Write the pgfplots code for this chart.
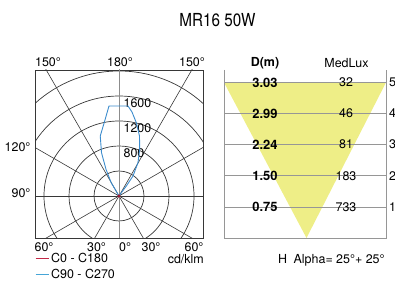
\documentclass[border=0pt]{standalone}
\usepackage{pgfplots}
\pgfplotsset{compat=1.18}
\usepackage{fontspec}
\setmainfont{TeX Gyre Heros}
\definecolor{gridc}{RGB}{55,55,55}
\definecolor{vline}{RGB}{140,140,140}
\definecolor{cblue}{RGB}{60,140,205}
\definecolor{cred}{RGB}{160,20,50}
\definecolor{lblue}{RGB}{70,165,215}
\definecolor{lred}{RGB}{195,40,70}
\definecolor{cyel}{RGB}{238,238,135}
\definecolor{pgray}{RGB}{150,150,150}
\begin{document}
\begin{tikzpicture}[x=1bp,y=1bp,font=\fontsize{12.5}{14}\selectfont]
\useasboundingbox (0,0) rectangle (395,282);
\node at (217.5,262) {\scalebox{0.85}[1]{\fontsize{18}{20}\selectfont MR16 50W}};

\begin{axis}[at={(35bp,44bp)},anchor=south west, scale only axis,
  width=168bp, height=168bp,
  xmin=-1344,xmax=1344,ymin=-672,ymax=2016,
  xtick=\empty, ytick=\empty,
  axis line style={gridc, line width=0.8pt},
  legend cell align=left,
  legend image code/.code={\draw[#1] (0bp,0bp) -- (13bp,0bp);},
  legend style={at={(rel axis cs:0.0,-0.075)}, anchor=north west, draw=none, fill=none,
    inner sep=0pt, row sep=2pt, font=\fontsize{12.5}{14}\selectfont},
]
\draw[gridc, line width=0.7pt] (axis cs:0,0) circle[radius=400];
\draw[gridc, line width=0.7pt] (axis cs:0,0) circle[radius=800];
\draw[gridc, line width=0.7pt] (axis cs:0,0) circle[radius=1200];
\draw[gridc, line width=0.7pt] (axis cs:0,0) circle[radius=1600];
\draw[gridc, line width=0.7pt] (axis cs:0,0) circle[radius=2000];
\addplot[gridc, line width=0.6pt, forget plot] coordinates {(-1500,2598) (1500,-2598)};
\addplot[gridc, line width=0.6pt, forget plot] coordinates {(1500,2598) (-1500,-2598)};
\addplot[gridc, line width=0.6pt, forget plot] coordinates {(-2598,1500) (2598,-1500)};
\addplot[gridc, line width=0.6pt, forget plot] coordinates {(2598,1500) (-2598,-1500)};
\addplot[gridc, line width=0.6pt, forget plot] coordinates {(-3000,0) (3000,0)};
\addplot[vline, line width=0.7pt, forget plot] coordinates {(0,-3000) (0,3000)};
\node[anchor=west, inner sep=0pt] at (axis cs:70,1493) {1600};
\node[anchor=west, inner sep=0pt] at (axis cs:70,1088) {1200};
\node[anchor=west, inner sep=0pt] at (axis cs:70,688) {800};
% C90 - C270
\addplot[cblue, line width=0.9pt, forget plot] coordinates {
 (0,0) (117,160) (224,320) (304,533) (331,747) (328,960) (277,1173)
 (208,1344) (144,1440) (-160,1440) (-229,1200) (-300,960) (-280,693)
 (-208,427) (-125,213) (0,0)};
% C0 - C180
\addplot[cred, only marks, mark=*, mark size=1.3bp, forget plot] coordinates {(0,0)};
\addlegendimage{draw=lred, line width=1pt}
\addlegendentry{C0 - C180}
\addlegendimage{draw=lblue, line width=1pt}
\addlegendentry{C90 - C270}
\end{axis}

% polar angle labels
\node at (48,219.5) {150°};
\node at (120,219.5) {180°};
\node at (192,219.5) {150°};
\node[anchor=east] at (34,135) {120°};
\node[anchor=east] at (34,89) {90°};
\node at (44,35.3) {60°};
\node at (96.5,35.3) {30°};
\node[anchor=west, inner sep=0pt] at (119,35.3) {0°};
\node at (151,35.3) {30°};
\node at (194,35.3) {60°};
\node[anchor=east, inner sep=0pt] at (204,23) {cd/klm};

\begin{axis}[at={(224bp,44bp)}, anchor=south west, scale only axis,
  width=162bp, height=168bp, xmin=0,xmax=162,ymin=0,ymax=168,
  axis lines=none, clip=false]
\addplot[fill=cyel, draw=none] coordinates {(0,155.5) (162,155.5) (82.5,0)} -- cycle;
\addplot[pgray, line width=0.7pt] coordinates {(0,168) (0,0) (162,0) (162,168)};
\addplot[pgray, line width=0.7pt] coordinates {(0,31.1) (162,31.1)};
\addplot[pgray, line width=0.7pt] coordinates {(0,62.3) (162,62.3)};
\addplot[pgray, line width=0.7pt] coordinates {(0,93.5) (162,93.5)};
\addplot[pgray, line width=0.7pt] coordinates {(0,124.6) (162,124.6)};
\addplot[pgray, line width=0.7pt] coordinates {(0,155.5) (162,155.5)};
\node[font=\fontsize{12.5}{14}\selectfont\bfseries] at (axis cs:41,175) {D(m)};
\node at (axis cs:122.5,175) {MedLux};
\node[font=\fontsize{13}{14}\selectfont\bfseries] at (axis cs:41,155.5) {3.03};
\node[font=\fontsize{13}{14}\selectfont\bfseries] at (axis cs:41,124.6) {2.99};
\node[font=\fontsize{13}{14}\selectfont\bfseries] at (axis cs:41,93.5) {2.24};
\node[font=\fontsize{13}{14}\selectfont\bfseries] at (axis cs:41,62.3) {1.50};
\node[font=\fontsize{13}{14}\selectfont\bfseries] at (axis cs:41,31.1) {0.75};
\node at (axis cs:122,155.5) {32};
\node at (axis cs:122,124.6) {46};
\node at (axis cs:122,93.5) {81};
\node at (axis cs:122,62.3) {183};
\node at (axis cs:122,31.1) {733};
\node[anchor=west, inner sep=0pt] at (axis cs:165,155.5) {5};
\node[anchor=west, inner sep=0pt] at (axis cs:165,124.6) {4};
\node[anchor=west, inner sep=0pt] at (axis cs:165,93.5) {3};
\node[anchor=west, inner sep=0pt] at (axis cs:165,62.3) {2};
\node[anchor=west, inner sep=0pt] at (axis cs:165,31.1) {1};
\end{axis}
\node[anchor=west, inner sep=0pt] at (278,22) {H\hspace{6.5pt}Alpha= 25°+ 25°};
\end{tikzpicture}
\end{document}
